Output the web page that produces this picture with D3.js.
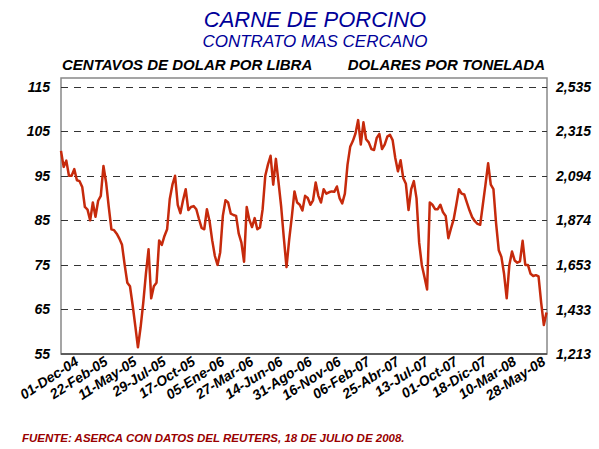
<!DOCTYPE html>
<html>
  <head>
    <meta charset="utf-8">
    <title>Carne de porcino</title>
    <script src="https://d3js.org/d3.v7.min.js"></script>
    <style>
      body { margin: 0; background: #fff; font-family: Arial, "Liberation Sans", sans-serif; }
      .tick line { display: none; }
      .domain { display: none; }
      .ylab text, .xlab text { font-weight: bold; font-style: italic; fill: #000; }
    </style>
  </head>
  <body>
    <script>
    // eje x: etiquetas de fecha, una cada 11 puntos (55 dias habiles, muestreo cada 5)
    var xLabels = ["01-Dec-04", "22-Feb-05", "11-May-05", "29-Jul-05", "17-Oct-05", "05-Ene-06",
                   "27-Mar-06", "14-Jun-06", "31-Ago-06", "16-Nov-06", "06-Feb-07", "25-Abr-07",
                   "13-Jul-07", "01-Oct-07", "18-Dic-07", "10-Mar-08", "28-May-08"];
    var labelStep = 11;

    var leftTicks = [55, 65, 75, 85, 95, 105, 115];
    var rightTicks = [1213, 1433, 1653, 1874, 2094, 2315, 2535];

    // centavos de dolar por libra, contrato mas cercano
    var prices = [
      100.6, 97.0, 98.4, 95.0, 95.0, 96.5, 94.0, 93.8, 92.5, 88.0,
      87.4, 85.0, 89.0, 85.8, 89.4, 90.5, 97.2, 93.5, 88.0, 83.0,
      82.8, 82.0, 80.9, 79.5, 75.0, 71.0, 70.2, 66.0, 61.3, 56.5,
      61.0, 66.5, 73.0, 78.5, 67.5, 70.2, 71.0, 80.5, 79.5, 81.5,
      83.0, 89.8, 93.0, 95.0, 88.5, 86.6, 89.5, 92.0, 87.3, 88.0,
      88.2, 87.5, 85.3, 83.3, 83.0, 87.5, 84.8, 80.5, 77.0, 75.0,
      77.8, 86.0, 89.5, 89.0, 86.5, 86.2, 86.0, 82.0, 80.0, 75.7,
      88.0, 85.1, 83.5, 85.5, 83.0, 83.4, 87.5, 95.0, 97.5, 99.5,
      93.0, 98.8, 93.5, 88.0, 81.0, 74.5, 80.6, 85.8, 91.5, 89.0,
      88.5, 87.2, 90.5, 90.0, 88.5, 89.5, 93.5, 90.5, 89.0, 92.0,
      91.0, 91.3, 91.5, 91.4, 92.6, 90.0, 88.8, 91.0, 97.5, 101.5,
      102.8, 104.5, 107.5, 102.0, 107.0, 103.2, 102.5, 101.0, 100.8, 103.5,
      104.4, 101.0, 102.0, 103.8, 104.2, 103.0, 99.0, 96.0, 98.5, 94.5,
      93.2, 87.3, 92.0, 93.8, 90.0, 80.0, 75.0, 72.3, 69.5, 89.0,
      88.5, 87.5, 87.5, 88.5, 86.8, 86.0, 81.0, 83.2, 85.2, 88.5,
      92.0, 91.0, 90.8, 89.0, 87.2, 85.7, 84.8, 84.2, 84.0, 88.5,
      93.0, 97.8, 93.0, 92.0, 84.3, 78.3, 76.8, 73.0, 67.5, 75.0,
      78.0, 76.0, 75.5, 75.8, 80.4, 75.0, 75.0, 73.0, 72.5, 72.7,
      72.4, 66.5, 61.5, 64.3
    ];

    var W = 599, H = 449;
    var plot = { left: 61, right: 547, top: 78, bottom: 354 };

    var svg = d3.select("body").append("svg")
                .attr("width", W)
                .attr("height", H);

    var xScale = d3.scaleLinear()
                   .domain([0, prices.length - 1])
                   .range([plot.left, plot.right - 0.5]);

    var yScale = d3.scaleLinear()
                   .domain([55, 115])
                   .range([plot.bottom, 86.7]);

    var yScaleR = d3.scaleLinear()
                    .domain([rightTicks[0], rightTicks[rightTicks.length - 1]])
                    .range([plot.bottom, 86.7]);

    // titulos
    svg.append("text")
       .attr("x", 315).attr("y", 27)
       .attr("text-anchor", "middle")
       .style("font-size", "22px").style("font-style", "italic")
       .attr("fill", "#000099")
       .text("CARNE DE PORCINO");

    svg.append("text")
       .attr("x", 315).attr("y", 47)
       .attr("text-anchor", "middle")
       .style("font-size", "17px").style("font-style", "italic")
       .attr("fill", "#000099")
       .text("CONTRATO MAS CERCANO");

    svg.append("text")
       .attr("x", 62).attr("y", 70)
       .style("font-size", "15px").style("font-style", "italic").style("font-weight", "bold")
       .text("CENTAVOS DE DOLAR POR LIBRA");

    svg.append("text")
       .attr("x", 545).attr("y", 70)
       .attr("text-anchor", "end")
       .style("font-size", "15px").style("font-style", "italic").style("font-weight", "bold")
       .text("DOLARES POR TONELADA");

    // marco del area de grafica
    svg.append("rect")
       .attr("x", plot.left).attr("y", plot.top)
       .attr("width", plot.right - plot.left).attr("height", plot.bottom - plot.top)
       .attr("fill", "none")
       .attr("stroke", "#888")
       .attr("stroke-width", 1.5);

    // lineas de division punteadas
    svg.append("g").selectAll("line")
       .data(leftTicks.slice(1))
       .enter()
       .append("line")
       .attr("x1", plot.left).attr("x2", plot.right)
       .attr("y1", function(d){ return Math.round(yScale(d)) + 0.5 })
       .attr("y2", function(d){ return Math.round(yScale(d)) + 0.5 })
       .attr("stroke", "#333")
       .attr("stroke-width", 1)
       .attr("stroke-dasharray", "7,6");

    svg.append("line")
       .attr("x1", plot.left).attr("x2", plot.right)
       .attr("y1", plot.bottom).attr("y2", plot.bottom)
       .attr("stroke", "#444").attr("stroke-width", 1.5);

    // eje izquierdo
    svg.append("g")
       .attr("class", "ylab")
       .attr("transform", "translate(" + plot.left + ",0)")
       .call(d3.axisLeft(yScale).tickValues(leftTicks).tickSize(0).tickPadding(11))
       .selectAll("text")
       .style("font-size", "14px")
       .style("font-family", "Arial, 'Liberation Sans', sans-serif");

    // eje derecho
    svg.append("g")
       .attr("class", "ylab")
       .attr("transform", "translate(" + plot.right + ",0)")
       .call(d3.axisRight(yScaleR).tickValues(rightTicks).tickSize(0).tickPadding(9)
               .tickFormat(d3.format(",")))
       .selectAll("text")
       .style("font-size", "14px")
       .style("font-family", "Arial, 'Liberation Sans', sans-serif");

    // eje x con fechas inclinadas
    var xAxis = d3.axisBottom(xScale)
                  .tickValues(xLabels.map(function(d, i){ return i * labelStep }))
                  .tickSize(0)
                  .tickFormat(function(d, i){ return xLabels[i] });

    svg.append("g")
       .attr("class", "xlab")
       .attr("transform", "translate(0," + plot.bottom + ")")
       .call(xAxis)
       .selectAll("text")
       .attr("x", 0).attr("y", 0).attr("dy", 0)
       .attr("text-anchor", "end")
       .attr("transform", "translate(18,10) rotate(-33)")
       .style("font-size", "14px")
       .style("font-family", "Arial, 'Liberation Sans', sans-serif");

    // serie de precios
    var linePath = d3.line()
                     .x(function(d, i){ return xScale(i) })
                     .y(function(d){ return yScale(d) });

    svg.append("path")
       .datum(prices)
       .attr("d", linePath)
       .attr("fill", "none")
       .attr("stroke", "#c62a0c")
       .attr("stroke-width", 2.5)
       .attr("stroke-linejoin", "round");

    // fuente
    svg.append("text")
       .attr("x", 22).attr("y", 442)
       .style("font-size", "11.5px").style("font-style", "italic").style("font-weight", "bold")
       .attr("fill", "#990000")
       .text("FUENTE: ASERCA CON DATOS DEL REUTERS, 18 DE JULIO DE 2008.");
    </script>
  </body>
</html>
